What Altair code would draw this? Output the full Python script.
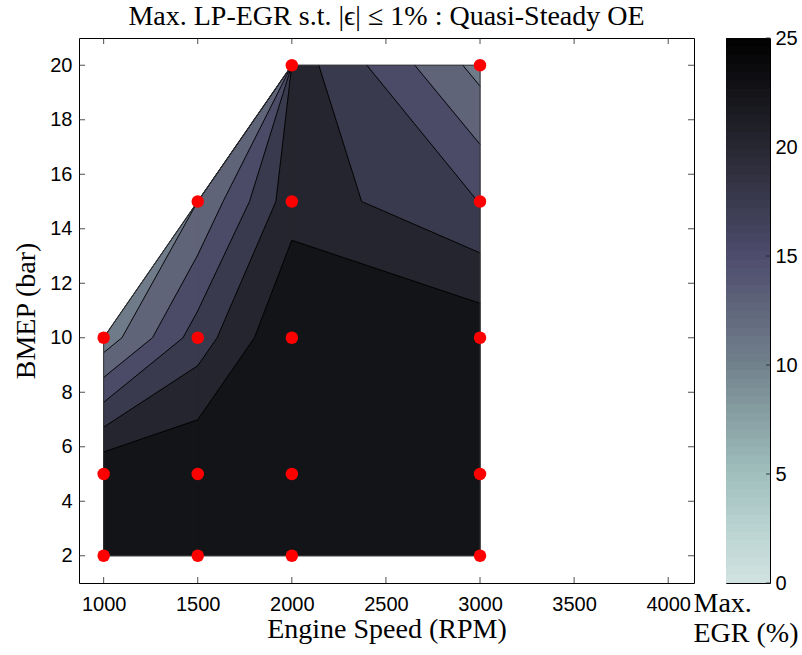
import altair as alt
import pandas as pd

# ---------------- data ----------------
speeds = [1000, 1500, 2000, 3000]            # Engine speed (RPM)
bmeps = [2, 5, 10, 15, 20]                   # BMEP (bar)
# Max EGR (%) per BMEP row, one value per speed (None = point not run)
egr_bmep2 = [25.0, 25.0, 25.0, 25.0]
egr_bmep5 = [24.7, 25.0, 25.0, 25.0]
egr_bmep10 = [11.0, 18.7, 25.0, 24.2]
egr_bmep15 = [None, 12.6, 21.5, 17.45]
egr_bmep20 = [None, None, 21.4, 11.6]

contour_levels = [10.0, 12.5, 15.0, 17.5, 20.0, 22.5]
band_colors = ["#6f7b88", "#5f6478", "#4b4a67", "#393a4d", "#25252f", "#131418"]

cbar_stop_values = [0, 2.5, 5, 7.5, 10, 12.5, 15, 17.5, 20, 22.5, 25]
cbar_stop_colors = ["#d2e3e1", "#b9d3d1", "#a0bfbd", "#89a1a5", "#72818d",
                    "#60677c", "#4e4c6c", "#3a3a4f", "#272732", "#141419", "#000000"]

x_tick_values = [1000, 1500, 2000, 2500, 3000, 3500, 4000]
y_tick_values = [2, 4, 6, 8, 10, 12, 14, 16, 18, 20]
cbar_tick_values = [0, 5, 10, 15, 20, 25]

# ---------------- filled-contour geometry (marching squares) ----------------
grid = [egr_bmep2, egr_bmep5, egr_bmep10, egr_bmep15, egr_bmep20]
NEG = -1.0e6


def val(i, j):
    v = grid[j][i]
    return NEG if v is None else v


def clip(poly, L, above):
    out = []
    n = len(poly)
    for a in range(n):
        P = poly[a]
        Q = poly[(a + 1) % n]
        inP = P[2] >= L if above else P[2] <= L
        inQ = Q[2] >= L if above else Q[2] <= L
        if inP:
            out.append(P)
        if inP != inQ:
            t = (L - P[2]) / (Q[2] - P[2])
            out.append((P[0] + t * (Q[0] - P[0]), P[1] + t * (Q[1] - P[1]), L))
    return out


def area(poly):
    s = 0.0
    n = len(poly)
    for a in range(n):
        x1, y1 = poly[a][0] / 1000.0, poly[a][1] / 10.0
        x2, y2 = poly[(a + 1) % n][0] / 1000.0, poly[(a + 1) % n][1] / 10.0
        s += x1 * y2 - x2 * y1
    return abs(s) / 2.0


band_lo = contour_levels
band_hi = contour_levels[1:] + [1.0e3]
band_names = ["b%d" % k for k in range(len(band_lo))]

poly_rows = []
seg_rows = []
pid = 0
for i in range(len(speeds) - 1):
    for j in range(len(bmeps) - 1):
        idx = [(i, j), (i + 1, j), (i + 1, j + 1), (i, j + 1)]
        nmiss = sum(1 for (a, b) in idx if grid[b][a] is None)
        if nmiss > 1:
            continue
        cell = [(speeds[a], bmeps[b], val(a, b)) for (a, b) in idx]
        for k in range(len(band_lo)):
            p = clip(clip(cell, band_lo[k], True), band_hi[k], False)
            if len(p) < 3 or area(p) < 1e-7:
                continue
            ring = p + [p[0]]
            for o, q in enumerate(ring):
                poly_rows.append({"pid": pid, "k": o, "x": q[0], "y": q[1],
                                  "band": band_names[k]})
            pid += 1
        for L in contour_levels:
            cr = []
            for a in range(4):
                P = cell[a]
                Q = cell[(a + 1) % 4]
                if (P[2] - L) * (Q[2] - L) < 0:
                    t = (L - P[2]) / (Q[2] - P[2])
                    cr.append((P[0] + t * (Q[0] - P[0]), P[1] + t * (Q[1] - P[1])))
            pairs = []
            if len(cr) == 2:
                pairs = [(cr[0], cr[1])]
            elif len(cr) == 4:
                pairs = [(cr[0], cr[1]), (cr[2], cr[3])]
            for (p1, p2) in pairs:
                seg_rows.append({"x": p1[0], "y": p1[1], "x2": p2[0], "y2": p2[1]})

poly_df = pd.DataFrame(poly_rows)
seg_df = pd.DataFrame(seg_rows)

pts = [(speeds[i], bmeps[j]) for j in range(len(bmeps)) for i in range(len(speeds))
       if grid[j][i] is not None]
dots_df = pd.DataFrame(pts, columns=["x", "y"])


def hull(points):
    P = sorted(set(points))

    def cross(o, a, b):
        return (a[0] - o[0]) * (b[1] - o[1]) - (a[1] - o[1]) * (b[0] - o[0])
    lower, upper = [], []
    for p in P:
        while len(lower) >= 2 and cross(lower[-2], lower[-1], p) <= 0:
            lower.pop()
        lower.append(p)
    for p in reversed(P):
        while len(upper) >= 2 and cross(upper[-2], upper[-1], p) <= 0:
            upper.pop()
        upper.append(p)
    return lower[:-1] + upper[:-1]


h = hull(pts)
hull_df = pd.DataFrame([{"x": h[a][0], "y": h[a][1],
                         "x2": h[(a + 1) % len(h)][0], "y2": h[(a + 1) % len(h)][1]}
                        for a in range(len(h))])

# ---------------- chart ----------------
W, H = 615, 545
SERIF = "Liberation Serif"
SANS = "Liberation Sans"
TFS = 28

xscale = alt.Scale(domain=[869, 4137], nice=False, zero=False)
yscale = alt.Scale(domain=[1, 21], nice=False, zero=False)
xaxis = alt.Axis(values=x_tick_values, format="d", ticks=False, domain=False, grid=False,
                 labelFont=SANS, labelFontSize=20, labelColor="black", labelPadding=11,
                 title="Engine Speed (RPM)", titleFont=SERIF, titleFontSize=TFS,
                 titleFontWeight="normal", titleColor="black", titlePadding=1)
yaxis = alt.Axis(values=y_tick_values, format="d", ticks=False, domain=False, grid=False,
                 labelFont=SANS, labelFontSize=20, labelColor="black", labelPadding=7,
                 title="BMEP (bar)", titleFont=SERIF, titleFontSize=TFS,
                 titleFontWeight="normal", titleColor="black", titlePadding=9)


def X(f):
    return alt.X(f, type="quantitative", scale=xscale, axis=xaxis)


def Y(f):
    return alt.Y(f, type="quantitative", scale=yscale, axis=yaxis)


band_scale = alt.Scale(domain=band_names, range=band_colors)

fills = alt.Chart(poly_df).mark_line(filled=True, strokeWidth=0).encode(
    x=X("x"), y=Y("y"),
    detail="pid:N", order=alt.Order("k:Q"),
    color=alt.Color("band:N", scale=band_scale, legend=None),
)
# same-coloured outline of every piece, to close the hairline seams between cells
seams = alt.Chart(poly_df).mark_line(strokeWidth=1.2, strokeJoin="round").encode(
    x=X("x"), y=Y("y"),
    detail="pid:N", order=alt.Order("k:Q"),
    color=alt.Color("band:N", scale=band_scale, legend=None),
)

lines = alt.Chart(seg_df).mark_rule(color="black", strokeWidth=0.9).encode(
    x=X("x"), y=Y("y"), x2="x2:Q", y2="y2:Q")

outline = alt.Chart(hull_df).mark_rule(color="#333333", strokeWidth=0.9).encode(
    x=X("x"), y=Y("y"), x2="x2:Q", y2="y2:Q")

dots = alt.Chart(dots_df).mark_circle(size=155, color="#ff0000", opacity=1).encode(
    x=X("x"), y=Y("y"))

xt_df = pd.DataFrame({"x": x_tick_values})
yt_df = pd.DataFrame({"y": y_tick_values})
tick_style = dict(color="#222222", strokeWidth=0.8)
xt_bottom = alt.Chart(xt_df).mark_rule(**tick_style).encode(
    x=X("x"), y=alt.value(H), y2=alt.value(H - 6))
xt_top = alt.Chart(xt_df).mark_rule(**tick_style).encode(
    x=X("x"), y=alt.value(0), y2=alt.value(6))
yt_left = alt.Chart(yt_df).mark_rule(**tick_style).encode(
    y=Y("y"), x=alt.value(0), x2=alt.value(6))
yt_right = alt.Chart(yt_df).mark_rule(**tick_style).encode(
    y=Y("y"), x=alt.value(W), x2=alt.value(W - 6))

main = alt.layer(fills, seams, lines, outline, xt_bottom, xt_top, yt_left, yt_right, dots).properties(
    width=W, height=H,
    title=alt.Title("Max. LP-EGR s.t. |ϵ| ≤ 1% : Quasi-Steady OE", font=SERIF, fontSize=TFS,
                    fontWeight="normal", color="black", anchor="middle", offset=7),
)

# ---------------- colorbar ----------------
CBW = 44
NSTEP = 64
step = 25.0 / NSTEP
steps = [k * step for k in range(NSTEP)]
cb_df = pd.DataFrame({"lo": steps,
                      "hi": [min(s + 1.6 * step, 25.0) for s in steps],
                      "mid": [s + 0.5 * step for s in steps], "x0": 0.0, "x1": 1.0})
cb_rect = alt.Chart(cb_df).mark_rect(strokeWidth=0).encode(
    x=alt.X("x0:Q", scale=alt.Scale(domain=[0, 1], nice=False),
            axis=alt.Axis(labels=False, ticks=False, domain=False, grid=False,
                          title=["Max.", "EGR (%)"], titleFont=SERIF, titleFontSize=TFS,
                          titleFontWeight="normal", titleColor="black", titleAlign="left",
                          titleX=-33, titleY=6, titleBaseline="top", titleLineHeight=30)),
    x2="x1:Q",
    y=alt.Y("lo:Q", scale=alt.Scale(domain=[0, 25], nice=False, zero=False),
            axis=alt.Axis(orient="right", values=cbar_tick_values, format="d", ticks=False,
                          domain=False, grid=False, labelFont=SANS, labelFontSize=20,
                          labelColor="black", labelPadding=5, title=None)),
    y2="hi:Q",
    color=alt.Color("mid:Q", scale=alt.Scale(domain=cbar_stop_values, range=cbar_stop_colors,
                                             interpolate="rgb"), legend=None),
)
cbt_df = pd.DataFrame({"lo": cbar_tick_values})
cb_ticks = alt.Chart(cbt_df).mark_rule(**tick_style).encode(
    y=alt.Y("lo:Q"), x=alt.value(CBW), x2=alt.value(CBW - 4))
cbar = alt.layer(cb_rect, cb_ticks).properties(width=CBW, height=H)

chart = alt.hconcat(main, cbar, spacing=32, bounds="flush").configure_view(
    stroke="black", strokeWidth=1
).properties(padding={"left": 12, "top": 2, "right": 2, "bottom": 2})

chart.save("out.html", embed_options={"renderer": "svg", "actions": False})
